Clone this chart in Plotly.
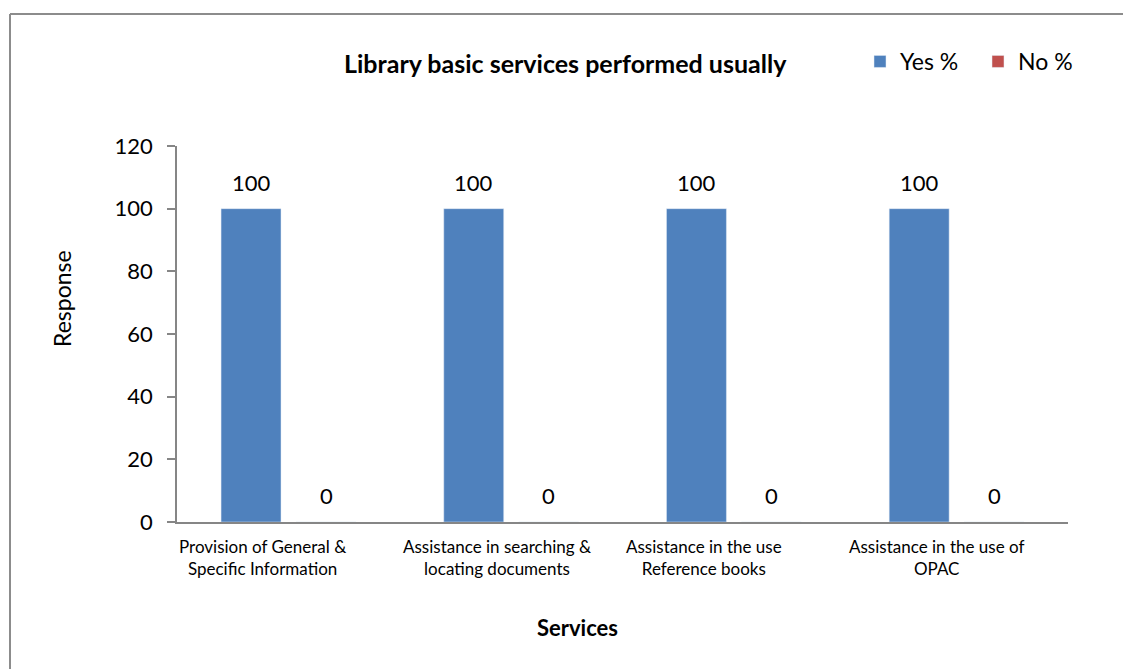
import plotly.graph_objects as go

# Survey results: share of respondents per library service
services = [
    "Provision of General &<br>Specific Information",
    "Assistance in searching &<br>locating documents",
    "Assistance in the use<br>Reference books",
    "Assistance in the use of<br>OPAC",
]
yes_pct = [100, 100, 100, 100]
no_pct = [0, 0, 0, 0]

W, H = 1127, 669
L, R, T, B = 177, 1068, 146, 522  # plot area in pixels
FONT = "Lato"
BLUE, RED = "#4F81BD", "#C0504D"


def px_x(x):
    return (x - L) / (R - L)


def px_y(y):
    return (B - y) / (B - T)


fig = go.Figure()
fig.add_trace(go.Bar(name="Yes %", x=services, y=yes_pct, marker_color=BLUE))
fig.add_trace(go.Bar(name="No %", x=services, y=no_pct, marker_color=RED))

fig.update_layout(
    width=W, height=H,
    margin=dict(l=L, r=W - R, t=T, b=H - B, pad=0),
    paper_bgcolor="white", plot_bgcolor="white",
    font=dict(family=FONT, color="black"),
    barmode="group", bargap=0.327, bargroupgap=0.2,
    showlegend=True,
    legend=dict(
        orientation="h", x=px_x(860), y=px_y(40), xanchor="left", yanchor="top",
        font=dict(size=23, family=FONT), itemwidth=30, bgcolor="rgba(0,0,0,0)",
        traceorder="normal", entrywidth=73, entrywidthmode="pixels",
    ),
)

fig.update_yaxes(
    range=[0, 120], dtick=20, showgrid=False, zeroline=False,
    showline=True, linecolor="#868686", linewidth=1.5,
    ticks="outside", ticklen=8, tickcolor="#868686", tickwidth=1.5,
    tickfont=dict(size=22, family=FONT), ticklabelstandoff=10,
)
fig.update_xaxes(
    showgrid=False, showline=True, linecolor="#868686", linewidth=1.5,
    ticks="", showticklabels=False,
)

# Value labels above each bar (series offset = half the bar slot)
slot_shift = 37.5
for vals, dx in ((yes_pct, -slot_shift), (no_pct, slot_shift)):
    for cat, v in zip(services, vals):
        fig.add_annotation(
            x=cat, y=v, text=str(v), showarrow=False,
            xanchor="center", yanchor="bottom", xshift=dx, yshift=11,
            font=dict(size=22, family=FONT),
        )

# Category labels under the axis
label_shift = [-26, -14, -30, -20]
for cat, dx in zip(services, label_shift):
    fig.add_annotation(
        x=cat, y=0, yref="y", text=cat, showarrow=False,
        xanchor="center", yanchor="top", xshift=dx, yshift=-12,
        font=dict(size=17, family=FONT), align="center",
    )

# Title and axis titles
fig.add_annotation(
    text="<b>Library basic services performed usually</b>",
    xref="paper", yref="paper", x=px_x(565), y=px_y(63),
    xanchor="center", yanchor="middle",
    showarrow=False, font=dict(size=25, family=FONT),
)
fig.add_annotation(
    text="Response", textangle=-90,
    xref="paper", yref="paper", x=px_x(62), y=px_y(299),
    xanchor="center", yanchor="middle",
    showarrow=False, font=dict(size=23, family=FONT),
)
fig.add_annotation(
    text="<b>Services</b>",
    xref="paper", yref="paper", x=px_x(577), y=px_y(627),
    xanchor="center", yanchor="middle",
    showarrow=False, font=dict(size=22, family=FONT),
)

# Chart frame (left and top edges)
frame = dict(color="#8c8c8c", width=2)
fig.add_shape(type="line", xref="paper", yref="paper",
              x0=px_x(10), x1=px_x(10), y0=px_y(14), y1=px_y(H + 5), line=frame)
fig.add_shape(type="line", xref="paper", yref="paper",
              x0=px_x(10), x1=px_x(1123), y0=px_y(14), y1=px_y(14), line=frame)

fig.write_html("out.html")
